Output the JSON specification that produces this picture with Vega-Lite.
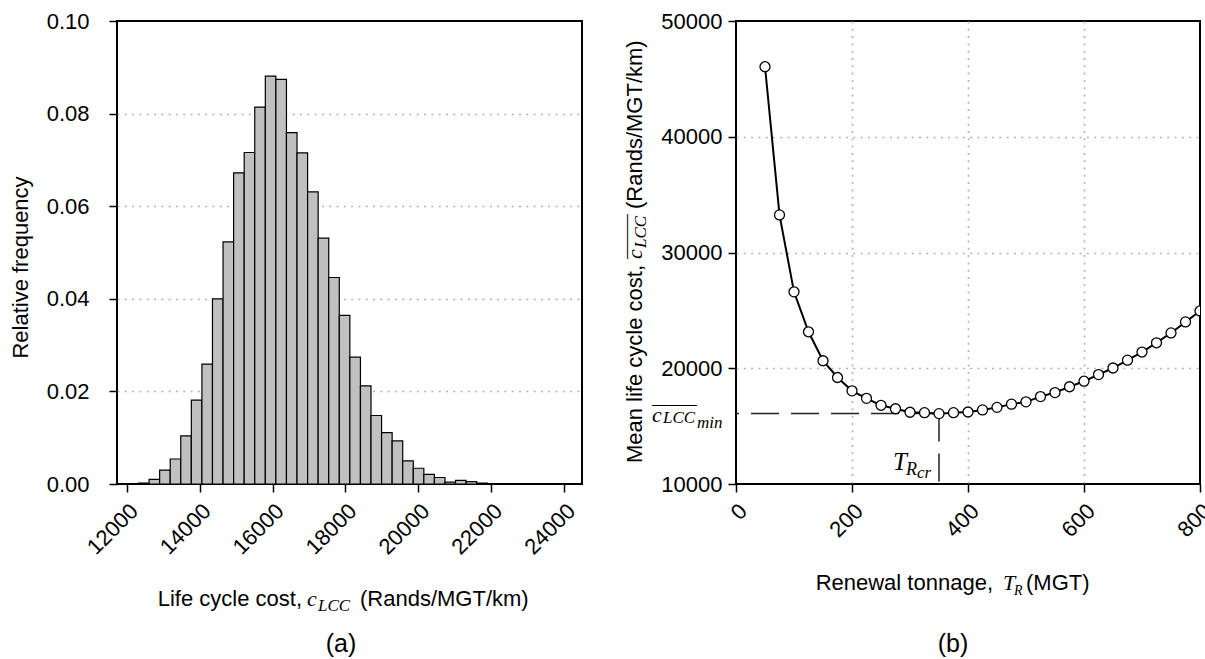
{
  "$schema": "https://vega.github.io/schema/vega-lite/v6.json",
  "background": "white",
  "padding": {"left": 8, "top": 9, "right": 0, "bottom": 0},
  "spacing": 154,
  "bounds": "flush",
  "config": {
    "view": {"stroke": "#000000", "strokeWidth": 2},
    "font": "Liberation Sans",
    "axis": {
      "domain": false,
      "tickColor": "#000000",
      "tickWidth": 1.5,
      "tickSize": 8,
      "labelFont": "Liberation Sans",
      "labelFontSize": 22,
      "labelColor": "#000000",
      "labelFlush": false,
      "labelOverlap": false,
      "labelBound": false,
      "titleFont": "Liberation Sans",
      "titleFontSize": 22,
      "titleFontWeight": "normal",
      "titleColor": "#000000",
      "gridColor": "#b3b3b3",
      "gridDash": [2, 5.3],
      "gridWidth": 1.6
    }
  },
  "datasets": {
    "hist": [
      {"lo": 12320, "hi": 12610, "freq": 0.0002},
      {"lo": 12610, "hi": 12900, "freq": 0.0010},
      {"lo": 12900, "hi": 13190, "freq": 0.0030},
      {"lo": 13190, "hi": 13480, "freq": 0.0054},
      {"lo": 13480, "hi": 13770, "freq": 0.0104},
      {"lo": 13770, "hi": 14060, "freq": 0.0181},
      {"lo": 14060, "hi": 14350, "freq": 0.0259},
      {"lo": 14350, "hi": 14640, "freq": 0.0400},
      {"lo": 14640, "hi": 14930, "freq": 0.0523},
      {"lo": 14930, "hi": 15220, "freq": 0.0672},
      {"lo": 15220, "hi": 15510, "freq": 0.0716},
      {"lo": 15510, "hi": 15800, "freq": 0.0814},
      {"lo": 15800, "hi": 16090, "freq": 0.0881},
      {"lo": 16090, "hi": 16380, "freq": 0.0874},
      {"lo": 16380, "hi": 16670, "freq": 0.0759},
      {"lo": 16670, "hi": 16960, "freq": 0.0715},
      {"lo": 16960, "hi": 17250, "freq": 0.0631},
      {"lo": 17250, "hi": 17540, "freq": 0.0531},
      {"lo": 17540, "hi": 17830, "freq": 0.0446},
      {"lo": 17830, "hi": 18120, "freq": 0.0364},
      {"lo": 18120, "hi": 18410, "freq": 0.0274},
      {"lo": 18410, "hi": 18700, "freq": 0.0212},
      {"lo": 18700, "hi": 18990, "freq": 0.0148},
      {"lo": 18990, "hi": 19280, "freq": 0.0111},
      {"lo": 19280, "hi": 19570, "freq": 0.0093},
      {"lo": 19570, "hi": 19860, "freq": 0.0050},
      {"lo": 19860, "hi": 20150, "freq": 0.0034},
      {"lo": 20150, "hi": 20440, "freq": 0.0021},
      {"lo": 20440, "hi": 20730, "freq": 0.0014},
      {"lo": 20730, "hi": 21020, "freq": 0.0004},
      {"lo": 21020, "hi": 21310, "freq": 0.0008},
      {"lo": 21310, "hi": 21600, "freq": 0.0005},
      {"lo": 21600, "hi": 21890, "freq": 0.0002}
    ],
    "lcc": [
      {"t": 50, "c": 46050},
      {"t": 75, "c": 33250},
      {"t": 100, "c": 26600},
      {"t": 125, "c": 23150},
      {"t": 150, "c": 20650},
      {"t": 175, "c": 19200},
      {"t": 200, "c": 18050},
      {"t": 225, "c": 17400},
      {"t": 250, "c": 16800},
      {"t": 275, "c": 16500},
      {"t": 300, "c": 16200},
      {"t": 325, "c": 16160},
      {"t": 350, "c": 16080},
      {"t": 375, "c": 16160},
      {"t": 400, "c": 16220},
      {"t": 425, "c": 16400},
      {"t": 450, "c": 16620},
      {"t": 475, "c": 16900},
      {"t": 500, "c": 17100},
      {"t": 525, "c": 17550},
      {"t": 550, "c": 17900},
      {"t": 575, "c": 18400},
      {"t": 600, "c": 18880},
      {"t": 625, "c": 19450},
      {"t": 650, "c": 20020},
      {"t": 675, "c": 20700},
      {"t": 700, "c": 21400},
      {"t": 725, "c": 22200},
      {"t": 750, "c": 23050},
      {"t": 775, "c": 24000},
      {"t": 800, "c": 24950}
    ]
  },
  "hconcat": [
    {
      "width": 465,
      "height": 463,
      "layer": [
        {
          "data": {"name": "hist"},
          "mark": {"type": "bar", "fill": "#c0c0c0", "stroke": "#000000", "strokeWidth": 1.2},
          "encoding": {
            "x": {
              "field": "lo", "type": "quantitative", "title": null,
              "scale": {"domain": [11730, 24490], "nice": false, "zero": false},
              "axis": {
                "values": [12000, 14000, 16000, 18000, 20000, 22000, 24000],
                "format": "d", "labelAngle": -45, "labelPadding": 8, "grid": false
              }
            },
            "x2": {"field": "hi"},
            "y": {
              "field": "freq", "type": "quantitative", "title": "Relative frequency",
              "scale": {"domain": [0, 0.1], "nice": false},
              "axis": {
                "values": [0, 0.02, 0.04, 0.06, 0.08, 0.1],
                "format": ".2f", "labelPadding": 20, "grid": true,
                "gridOpacity": {"condition": {"test": "datum.value <= 0 || datum.value >= 0.1", "value": 0}, "value": 1},
                "titleAngle": 270, "titleX": -90, "titleY": 246,
                "titleAlign": "center", "titleBaseline": "alphabetic"
              }
            },
            "y2": {"datum": 0}
          }
        },
        {
          "data": {"values": [{}]},
          "layer": [
            {"mark": {"type": "text", "text": "Life cycle cost,", "x": 185, "y": 585, "align": "right", "baseline": "alphabetic", "font": "Liberation Sans", "fontSize": 22, "color": "#000000"}, "encoding": {}},
            {"mark": {"type": "text", "text": "c", "x": 190, "y": 585, "align": "left", "baseline": "alphabetic", "font": "Liberation Serif", "fontStyle": "italic", "fontSize": 22, "color": "#000000"}, "encoding": {}},
            {"mark": {"type": "text", "text": "LCC", "x": 201, "y": 590, "align": "left", "baseline": "alphabetic", "font": "Liberation Serif", "fontStyle": "italic", "fontSize": 17, "color": "#000000"}, "encoding": {}},
            {"mark": {"type": "text", "text": "(Rands/MGT/km)", "x": 243, "y": 585, "align": "left", "baseline": "alphabetic", "font": "Liberation Sans", "fontSize": 22, "color": "#000000"}, "encoding": {}},
            {"mark": {"type": "text", "text": "(a)", "x": 224, "y": 631, "align": "center", "baseline": "alphabetic", "font": "Liberation Sans", "fontSize": 25, "color": "#000000"}, "encoding": {}}
          ]
        }
      ]
    },
    {
      "width": 464,
      "height": 463,
      "layer": [
        {
          "data": {"name": "lcc"},
          "transform": [{"filter": "datum.t === 350"}],
          "layer": [
            {
              "mark": {"type": "rule", "stroke": "#222222", "strokeWidth": 1.5, "strokeDash": [28, 12]},
              "encoding": {
                "x": {"field": "t", "type": "quantitative", "title": null},
                "x2": {"datum": 0},
                "y": {"field": "c", "type": "quantitative", "title": null}
              }
            },
            {
              "mark": {"type": "rule", "stroke": "#222222", "strokeWidth": 1.5, "strokeDash": [28, 12]},
              "encoding": {
                "x": {"field": "t", "type": "quantitative", "title": null},
                "y": {"field": "c", "type": "quantitative", "title": null},
                "y2": {"datum": 10000}
              }
            },
            {
              "mark": {"type": "text", "text": "c", "align": "left", "baseline": "alphabetic", "dx": -84, "dy": 8, "font": "Liberation Serif", "fontStyle": "italic", "fontSize": 22, "color": "#000000"},
              "encoding": {"x": {"datum": 0, "type": "quantitative"}, "y": {"field": "c", "type": "quantitative", "title": null}}
            },
            {
              "mark": {"type": "text", "text": "LCC", "align": "left", "baseline": "alphabetic", "dx": -73, "dy": 9, "font": "Liberation Serif", "fontStyle": "italic", "fontSize": 17, "color": "#000000"},
              "encoding": {"x": {"datum": 0, "type": "quantitative"}, "y": {"field": "c", "type": "quantitative", "title": null}}
            },
            {
              "mark": {"type": "text", "text": "min", "align": "left", "baseline": "alphabetic", "dx": -39, "dy": 14, "font": "Liberation Serif", "fontStyle": "italic", "fontSize": 17, "color": "#000000"},
              "encoding": {"x": {"datum": 0, "type": "quantitative"}, "y": {"field": "c", "type": "quantitative", "title": null}}
            },
            {
              "mark": {"type": "text", "text": "———", "align": "left", "baseline": "alphabetic", "dx": -84, "dy": -5, "font": "Liberation Sans", "fontSize": 15, "color": "#000000"},
              "encoding": {"x": {"datum": 0, "type": "quantitative"}, "y": {"field": "c", "type": "quantitative", "title": null}}
            },
            {
              "mark": {"type": "text", "text": "T", "align": "left", "baseline": "alphabetic", "dx": -46, "dy": -14, "font": "Liberation Serif", "fontStyle": "italic", "fontSize": 25, "color": "#000000"},
              "encoding": {"x": {"field": "t", "type": "quantitative", "title": null}, "y": {"datum": 10000, "type": "quantitative"}}
            },
            {
              "mark": {"type": "text", "text": "R", "align": "left", "baseline": "alphabetic", "dx": -33, "dy": -9, "font": "Liberation Serif", "fontStyle": "italic", "fontSize": 18, "color": "#000000"},
              "encoding": {"x": {"field": "t", "type": "quantitative", "title": null}, "y": {"datum": 10000, "type": "quantitative"}}
            },
            {
              "mark": {"type": "text", "text": "cr", "align": "left", "baseline": "alphabetic", "dx": -22, "dy": -6, "font": "Liberation Serif", "fontStyle": "italic", "fontSize": 17, "color": "#000000"},
              "encoding": {"x": {"field": "t", "type": "quantitative", "title": null}, "y": {"datum": 10000, "type": "quantitative"}}
            }
          ]
        },
        {
          "data": {"name": "lcc"},
          "mark": {"type": "line", "stroke": "#000000", "strokeWidth": 2, "clip": true},
          "encoding": {
            "x": {
              "field": "t", "type": "quantitative", "title": null,
              "scale": {"domain": [0, 800], "nice": false},
              "axis": {
                "values": [0, 200, 400, 600, 800], "format": "d",
                "labelAngle": -45, "labelPadding": 8, "grid": true,
                "gridOpacity": {"condition": {"test": "datum.value <= 0 || datum.value >= 800", "value": 0}, "value": 1}
              }
            },
            "y": {
              "field": "c", "type": "quantitative", "title": null,
              "scale": {"domain": [10000, 50000], "nice": false, "zero": false},
              "axis": {
                "values": [10000, 20000, 30000, 40000, 50000], "format": "d",
                "labelPadding": 6, "grid": true,
                "gridOpacity": {"condition": {"test": "datum.value <= 10000 || datum.value >= 50000", "value": 0}, "value": 1}
              }
            }
          }
        },
        {
          "data": {"name": "lcc"},
          "mark": {"type": "point", "shape": "circle", "filled": true, "fill": "#ffffff", "stroke": "#000000", "strokeWidth": 1.3, "size": 100, "opacity": 1, "clip": true},
          "encoding": {
            "x": {"field": "t", "type": "quantitative", "title": null},
            "y": {"field": "c", "type": "quantitative", "title": null}
          }
        },
        {
          "data": {"values": [{}]},
          "layer": [
            {"mark": {"type": "text", "text": "Mean life cycle cost,", "angle": 270, "x": -94, "y": 244, "align": "right", "baseline": "alphabetic", "font": "Liberation Sans", "fontSize": 22, "color": "#000000"}, "encoding": {}},
            {"mark": {"type": "text", "text": "c", "angle": 270, "x": -94, "y": 238, "align": "left", "baseline": "alphabetic", "font": "Liberation Serif", "fontStyle": "italic", "fontSize": 22, "color": "#000000"}, "encoding": {}},
            {"mark": {"type": "text", "text": "LCC", "angle": 270, "x": -90, "y": 227, "align": "left", "baseline": "alphabetic", "font": "Liberation Serif", "fontStyle": "italic", "fontSize": 17, "color": "#000000"}, "encoding": {}},
            {"mark": {"type": "text", "text": "———", "angle": 270, "x": -105, "y": 238, "align": "left", "baseline": "alphabetic", "font": "Liberation Sans", "fontSize": 15, "color": "#000000"}, "encoding": {}},
            {"mark": {"type": "text", "text": "(Rands/MGT/km)", "angle": 270, "x": -94, "y": 188, "align": "left", "baseline": "alphabetic", "font": "Liberation Sans", "fontSize": 22, "color": "#000000"}, "encoding": {}},
            {"mark": {"type": "text", "text": "Renewal tonnage,", "x": 257, "y": 569, "align": "right", "baseline": "alphabetic", "font": "Liberation Sans", "fontSize": 22, "color": "#000000"}, "encoding": {}},
            {"mark": {"type": "text", "text": "T", "x": 267, "y": 569, "align": "left", "baseline": "alphabetic", "font": "Liberation Serif", "fontStyle": "italic", "fontSize": 22, "color": "#000000"}, "encoding": {}},
            {"mark": {"type": "text", "text": "R", "x": 278, "y": 574, "align": "left", "baseline": "alphabetic", "font": "Liberation Serif", "fontStyle": "italic", "fontSize": 14, "color": "#000000"}, "encoding": {}},
            {"mark": {"type": "text", "text": "(MGT)", "x": 290, "y": 569, "align": "left", "baseline": "alphabetic", "font": "Liberation Sans", "fontSize": 22, "color": "#000000"}, "encoding": {}},
            {"mark": {"type": "text", "text": "(b)", "x": 217, "y": 631, "align": "center", "baseline": "alphabetic", "font": "Liberation Sans", "fontSize": 25, "color": "#000000"}, "encoding": {}}
          ]
        }
      ]
    }
  ]
}
